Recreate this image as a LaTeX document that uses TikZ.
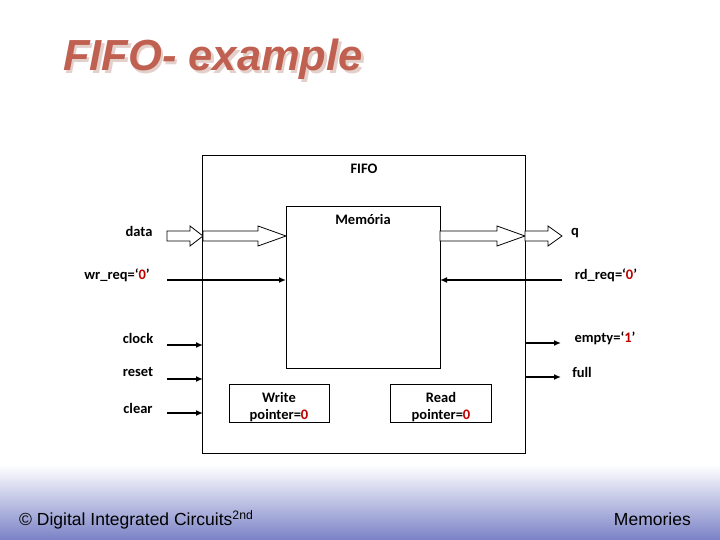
\documentclass[tikz,border=0pt]{standalone}
\usepackage{fontspec}
\setmainfont{Carlito}
\newfontfamily\arialfont{Liberation Sans}
\usetikzlibrary{arrows.meta}
\definecolor{titlered}{RGB}{192,96,80}
\definecolor{titleshadow}{RGB}{228,208,203}
\definecolor{footblue}{RGB}{122,130,198}
\definecolor{valred}{RGB}{192,0,0}
\tikzset{
  box/.style={draw=black, line width=0.8pt},
  lbl/.style={font=\bfseries\fontsize{14.5}{17}\selectfont, inner sep=0pt},
  sig/.style={line width=1.8pt, -{Latex[length=7pt,width=6pt]}},
  hollow/.style={draw=black, line width=0.8pt, fill=white},
  foottext/.style={font=\arialfont\fontsize{17.5}{20}\selectfont, inner sep=0pt},
}
\newcommand{\rz}{\textcolor{valred}{0}}
\newcommand{\ttl}{FIFO- example}
\begin{document}
\begin{tikzpicture}[x=1pt,y=-1pt]
\useasboundingbox (0,0) rectangle (720,540);
\fill[white] (0,0) rectangle (720,540);
\shade[top color=white, bottom color=footblue] (0,465) rectangle (720,540);

% title (with shadow inside the same node)
\node[font=\arialfont\bfseries\itshape\fontsize{43.5}{46}\selectfont, text=titlered, inner sep=0pt] (title) at (213,61)
  {\makebox[0pt][l]{\hspace{2.5pt}\raisebox{-2.5pt}{\textcolor{titleshadow}{\ttl}}}\ttl};

% boxes
\draw[box] (202,155) rectangle (525,453);
\node[lbl] (fifo) at (364,169) {FIFO};
\draw[box] (286,206) rectangle (440,368);
\node[lbl] (mem) at (363,219) {Memória};
\draw[box] (229,384) rectangle (329,422);
\node[lbl, align=center] (wp) at (279,407) {Write\\[0pt]pointer=\rz};
\draw[box] (390,384) rectangle (491,422);
\node[lbl, align=center] (rp) at (441,407) {Read\\[0pt]pointer=\rz};

% hollow data arrows
\draw[hollow] (167,231) -- (190,231) -- (190,226) -- (203,236) -- (190,246) -- (190,241) -- (167,241) -- cycle;
\draw[hollow] (203,231) -- (258,231) -- (258,226) -- (286,236) -- (258,246) -- (258,241) -- (203,241) -- cycle;
\draw[hollow] (440,231) -- (497,231) -- (497,226) -- (525,236) -- (497,246) -- (497,241) -- (440,241) -- cycle;
\draw[hollow] (525,231) -- (548,231) -- (548,226) -- (562,236) -- (548,246) -- (548,241) -- (525,241) -- cycle;

% labels
\node[lbl] (data) at (139,231) {data};
\node[lbl] (q) at (575,233) {q};
\node[lbl] (wr) at (117,275) {wr\_req=‘\rz’};
\node[lbl] (rd) at (606,275) {rd\_req=‘\rz’};
\node[lbl] (clk) at (138,338) {clock};
\node[lbl] (rst) at (138,372) {reset};
\node[lbl] (clr) at (138,408) {clear};
\node[lbl] (emp) at (605,338) {empty=‘\textcolor{valred}{1}’};
\node[lbl] (full) at (582,372) {full};

% signal arrows
\coordinate (wr0) at (167,280); \coordinate (wr1) at (286,280);
\coordinate (rd0) at (562,280); \coordinate (rd1) at (440,280);
\coordinate (ck0) at (167,345); \coordinate (ck1) at (203,345);
\coordinate (rs0) at (167,379); \coordinate (rs1) at (203,379);
\coordinate (cl0) at (167,413); \coordinate (cl1) at (203,413);
\coordinate (em0) at (525,343); \coordinate (em1) at (561,343);
\coordinate (fu0) at (525,377); \coordinate (fu1) at (561,377);
\draw[sig] (wr0) -- (wr1);
\draw[sig] (rd0) -- (rd1);
\draw[sig] (ck0) -- (ck1);
\draw[sig] (rs0) -- (rs1);
\draw[sig] (cl0) -- (cl1);
\draw[sig] (em0) -- (em1);
\draw[sig] (fu0) -- (fu1);

% footer
\node[foottext, anchor=west] (foot) at (19,520) {© Digital Integrated Circuits\textsuperscript{2nd}};
\node[foottext, anchor=east] (mems) at (691,519) {Memories};
\end{tikzpicture}
\end{document}
